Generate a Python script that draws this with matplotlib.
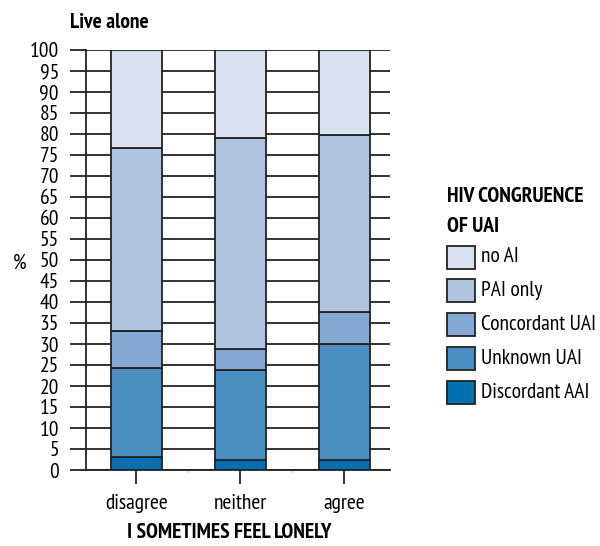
import numpy as np
import matplotlib.pyplot as plt
from matplotlib.patches import Rectangle

plt.rcParams['font.family'] = ['PT Sans Narrow', 'DejaVu Sans']

# Responses to "I sometimes feel lonely" (people who live alone)
categories = ['disagree', 'neither', 'agree']

# Stacked shares in percent, bottom to top
series = ['Discordant AAI', 'Unknown UAI', 'Concordant UAI', 'PAI only', 'no AI']
discordant_aai = [3.2, 2.5, 2.5]
unknown_uai = [21.2, 21.3, 27.6]
concordant_uai = [8.8, 5.0, 7.5]
pai_only = [43.4, 50.3, 42.2]
no_ai = [23.4, 20.9, 20.2]

colors = ['#0070b0', '#4b8ec2', '#83a8d1', '#b0c4df', '#d9e0ef']
edge = '#222222'
fs = 15.5

W, H = 600, 546
fig = plt.figure(figsize=(W / 100, H / 100), dpi=100)
ax = fig.add_axes([86 / W, (H - 470) / H, (390 - 86) / W, (470 - 50) / H])

x = np.arange(len(categories))
bottom = np.zeros(len(categories))
for vals, col in zip([discordant_aai, unknown_uai, concordant_uai, pai_only, no_ai], colors):
    vals = np.array(vals)
    ax.bar(x, vals, 0.49, bottom=bottom, color=col, edgecolor=edge, linewidth=1.3, zorder=3)
    bottom += vals

ax.set_xlim(-0.486, 2.44)
ax.set_ylim(0, 100)
ax.set_yticks(np.arange(0, 101, 5))
ax.yaxis.grid(True, color=edge, linewidth=1.3, zorder=0)
ax.set_axisbelow(True)
ax.tick_params(axis='y', length=11.5, width=1.3, color=edge, labelsize=fs, pad=8)

ax.set_xticks(x)
ax.set_xticklabels(categories)
ax.set_xticks([0.5, 1.5], minor=True)
ax.tick_params(axis='x', which='major', length=10, width=1.3, color=edge, labelsize=fs, pad=7)
ax.tick_params(axis='x', which='minor', length=2, width=1, color='#cccccc')

for s in ['top', 'right']:
    ax.spines[s].set_visible(False)
for s in ['left', 'bottom']:
    ax.spines[s].set_color(edge)
    ax.spines[s].set_linewidth(1.3)

fig.text(20 / W, 1 - 263 / H, '%', fontsize=fs, ha='center', va='center')
fig.text(70 / W, 1 - 22 / H, 'Live alone', fontsize=fs, fontweight='bold', ha='left', va='center')
fig.text(229 / W, 1 - 533 / H, 'I SOMETIMES FEEL LONELY', fontsize=fs, fontweight='bold',
         ha='center', va='center')

# Legend, top entry first
fig.text(447 / W, 1 - 197 / H, 'HIV CONGRUENCE', fontsize=fs, fontweight='bold', ha='left', va='center')
fig.text(447 / W, 1 - 226 / H, 'OF UAI', fontsize=fs, fontweight='bold', ha='left', va='center')
for i, (name, col) in enumerate(zip(series[::-1], colors[::-1])):
    yc = 257 + i * 33.8
    fig.patches.append(Rectangle((447 / W, 1 - (yc + 11.5) / H), 28 / W, 23 / H,
                                 facecolor=col, edgecolor=edge, linewidth=1.3,
                                 transform=fig.transFigure, figure=fig))
    fig.text(481 / W, 1 - yc / H, name, fontsize=fs, ha='left', va='center')

fig.savefig('out.png', dpi=100)
